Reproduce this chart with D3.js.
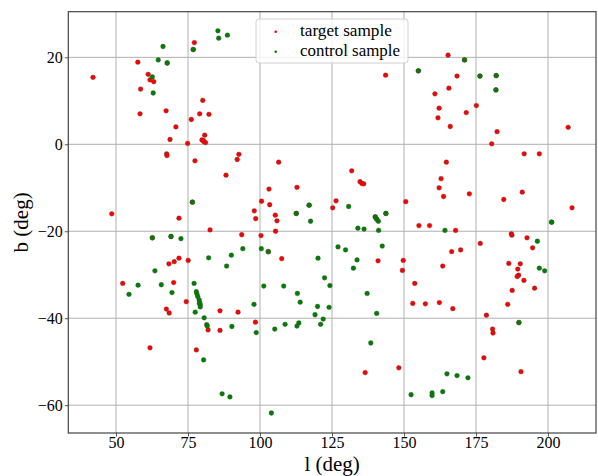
<!DOCTYPE html>
<html>
<head>
<meta charset="utf-8">
<script src="https://cdn.jsdelivr.net/npm/d3@7"></script>
<style>
  body { margin: 0; background: #fff; }
  svg { display: block; }
  text { font-family: "Liberation Serif", "Times New Roman", serif; fill: #000; }
</style>
</head>
<body>
<div id="chart"></div>
<script>
// target sample (red) positions, [l, b] in degrees
const targetPts = [
  [77.21, 23.4], [76.83, 21.8], [67.78, 18.7], [57.58, 18.9], [42.02, 15.4], [61.17, 16.1],
  [61.81, 14.8], [63.12, 14.4], [58.55, 12.7], [58.35, 7.0], [67.40, 7.7], [80.13, 10.1],
  [79.06, 7.0], [82.27, 6.9], [76.15, 5.7], [70.80, 4.0], [68.76, 1.1], [74.88, 0.2],
  [80.81, 2.1], [79.84, 1.0], [80.52, 0.6], [81.10, 0.4], [80.33, 0.9], [67.59, -2.2],
  [67.69, -2.6], [77.41, -3.8], [88.20, -7.1], [92.67, -2.3], [92.09, -3.5], [76.53, -13.3],
  [143.62, 15.9], [154.99, 16.9], [106.48, -4.1], [131.85, -6.1], [134.72, -8.6], [135.35, -9.0],
  [136.03, -9.1], [103.12, -10.3], [112.84, -9.9], [100.55, -13.1], [103.37, -13.9], [117.07, -14.0],
  [126.41, -13.0], [125.24, -14.6], [150.62, -13.2],
  [165.30, 20.5], [171.03, 19.4], [168.41, 15.7], [176.38, 15.7], [182.02, 15.8], [181.92, 12.5],
  [165.59, 12.9], [160.73, 11.6], [175.12, 8.9], [162.19, 8.3], [171.62, 7.3], [161.80, 6.1],
  [166.07, 4.1], [182.31, 2.9], [207.00, 3.9], [180.46, 0.1], [191.74, -2.2], [196.99, -2.2],
  [164.71, -4.1], [162.87, -7.9], [162.19, -10.0], [163.74, -12.0], [172.69, -11.4], [191.06, -11.0],
  [184.65, -12.7], [208.36, -14.6],
  [48.53, -16.0], [71.87, -17.0], [82.66, -19.7], [62.63, -21.5], [69.10, -21.2], [75.08, -26.7],
  [71.87, -26.2], [70.22, -27.0], [68.37, -27.5], [52.33, -32.0], [70.02, -31.8], [74.40, -36.2],
  [67.49, -37.9], [68.47, -38.8], [86.11, -38.3], [92.38, -38.6], [81.98, -42.7], [86.11, -42.8],
  [61.81, -46.8], [77.90, -47.3], [78.97, -36.6],
  [98.02, -15.3], [98.51, -17.1], [105.31, -16.3], [105.89, -17.6], [112.60, -15.9], [140.02, -16.7],
  [140.51, -17.2], [143.71, -15.9], [105.41, -20.0], [100.35, -21.0], [93.65, -20.8], [155.19, -18.7],
  [102.88, -24.7], [107.55, -26.3], [140.99, -26.8], [149.74, -26.7], [149.45, -29.0], [153.73, -32.0],
  [153.05, -36.6], [98.41, -40.9], [136.52, -52.5], [148.19, -51.4],
  [201.27, -17.9], [158.88, -18.7], [167.92, -19.8], [187.27, -20.6], [187.46, -20.9], [192.71, -21.5],
  [194.66, -23.8], [176.48, -22.8], [166.56, -24.7], [169.67, -24.3], [163.45, -28.0], [186.39, -27.4],
  [190.38, -27.5], [189.50, -28.7], [189.80, -30.1], [189.31, -30.4], [191.64, -31.3], [187.56, -33.6],
  [195.34, -33.1], [157.42, -36.7], [162.28, -36.4], [166.95, -37.8], [186.01, -36.8], [178.62, -39.3],
  [189.89, -41.0], [180.76, -42.5], [180.90, -43.4], [177.74, -49.1], [190.62, -52.3]
];

// control sample (green) positions
const controlPts = [
  [85.38, 26.1], [85.67, 24.4], [88.69, 25.1], [76.83, 21.8], [66.33, 22.5], [64.67, 19.4],
  [67.78, 18.7], [62.63, 15.5], [62.92, 11.8], [76.53, -13.3], [154.99, 16.9], [117.07, -14.0],
  [130.79, -14.3], [171.03, 19.4], [176.38, 15.7], [182.02, 15.8], [181.92, 12.5],
  [62.63, -21.5], [69.10, -21.2], [72.55, -21.7], [82.17, -26.1], [90.05, -25.5], [88.40, -28.0],
  [63.51, -29.1], [57.67, -32.4], [54.51, -34.5], [65.74, -32.3], [69.44, -34.1], [77.12, -32.0],
  [77.90, -33.9], [78.09, -34.4], [78.38, -35.0], [78.87, -35.8], [79.06, -36.4], [79.26, -36.9],
  [79.26, -37.4], [77.51, -38.6], [80.62, -39.9], [81.49, -41.5], [81.69, -41.8], [90.24, -41.9],
  [80.42, -49.6], [86.84, -57.4], [89.56, -58.1],
  [112.60, -15.9], [117.56, -17.7], [140.02, -16.7], [140.51, -17.2], [141.09, -17.7], [143.71, -15.9],
  [133.99, -19.3], [136.13, -19.5], [141.19, -19.8], [94.03, -24.0], [100.45, -24.0], [102.88, -24.7],
  [120.14, -26.2], [127.09, -23.6], [129.71, -24.3], [142.45, -23.4], [133.70, -26.6], [132.44, -28.5],
  [101.32, -32.6], [108.23, -32.6], [122.42, -30.7], [124.27, -32.5], [112.99, -34.3], [113.96, -36.3],
  [137.20, -34.3], [97.92, -36.8], [119.99, -37.3], [123.98, -37.5], [140.51, -38.9], [119.12, -39.2],
  [121.94, -40.2], [121.06, -41.4], [113.48, -41.1], [112.84, -41.8], [108.71, -41.4], [105.12, -42.5],
  [98.70, -43.3], [138.47, -45.7], [152.46, -57.6], [103.95, -61.8],
  [201.27, -17.9], [164.23, -19.8], [196.31, -22.3], [196.99, -28.5], [198.84, -29.1], [189.89, -41.0],
  [164.91, -52.8], [168.41, -53.2], [172.20, -53.7], [159.75, -57.2], [159.75, -57.8], [163.45, -56.9]
];

const xTicks = [50, 75, 100, 125, 150, 175, 200];
const yTicks = [-60, -40, -20, 0, 20];
const legendLabels = ["target sample", "control sample"];

const W = 598, H = 476;
const plot = { left: 68.3, right: 596, top: 11.7, bottom: 433 };

const svg = d3.select("#chart").append("svg")
    .attr("width", W)
    .attr("height", H);

const x = d3.scaleLinear().domain([33.44, 216.67]).range([plot.left, plot.right]);
const y = d3.scaleLinear().domain([-66.4, 30.5]).range([plot.bottom, plot.top]);

// grid
svg.append("g").selectAll("line")
    .data(xTicks).enter().append("line")
    .attr("x1", d => x(d)).attr("x2", d => x(d))
    .attr("y1", plot.top).attr("y2", plot.bottom)
    .attr("stroke", "#b0b0b0").attr("stroke-width", 1);
svg.append("g").selectAll("line")
    .data(yTicks).enter().append("line")
    .attr("x1", plot.left).attr("x2", plot.right)
    .attr("y1", d => y(d)).attr("y2", d => y(d))
    .attr("stroke", "#b0b0b0").attr("stroke-width", 1);

// axes
const xAxis = d3.axisBottom(x).tickValues(xTicks).tickSize(3.5).tickPadding(0)
    .tickFormat(d3.format("d"));
const yAxis = d3.axisLeft(y).tickValues(yTicks).tickSize(3.5).tickPadding(2)
    .tickFormat(d => d < 0 ? "\u2212" + Math.abs(d) : d);

const gx = svg.append("g").attr("transform", `translate(0,${plot.bottom})`).call(xAxis);
const gy = svg.append("g").attr("transform", `translate(${plot.left},0)`).call(yAxis);
[gx, gy].forEach(g => {
    g.select(".domain").remove();
    g.selectAll(".tick line").attr("stroke", "#555");
    g.selectAll(".tick text").attr("font-size", "16px")
        .attr("font-family", "Liberation Serif, serif").attr("fill", "#000");
});

// points: red first, green on top
const dots = svg.append("g");
dots.selectAll(".target")
    .data(targetPts).enter().append("circle")
    .attr("class", "target")
    .attr("cx", d => x(d[0])).attr("cy", d => y(d[1]))
    .attr("r", 2.4)
    .attr("fill", "#ff0000")
    .attr("stroke", "rgba(60,60,60,0.45)")
    .attr("stroke-width", 0.7);
dots.selectAll(".control")
    .data(controlPts).enter().append("circle")
    .attr("class", "control")
    .attr("cx", d => x(d[0])).attr("cy", d => y(d[1]))
    .attr("r", 2.4)
    .attr("fill", "#008000")
    .attr("stroke", "rgba(60,60,60,0.45)")
    .attr("stroke-width", 0.7);

// frame
svg.append("rect")
    .attr("x", plot.left).attr("y", plot.top)
    .attr("width", plot.right - plot.left).attr("height", plot.bottom - plot.top)
    .attr("fill", "none").attr("stroke", "#444").attr("stroke-width", 1.2);

// axis labels
svg.append("text")
    .attr("x", (plot.left + plot.right) / 2).attr("y", 471)
    .attr("text-anchor", "middle").attr("font-size", "21px")
    .text("l (deg)");
svg.append("text")
    .attr("transform", `translate(28,${(plot.top + plot.bottom) / 2}) rotate(-90)`)
    .attr("text-anchor", "middle").attr("font-size", "21px")
    .text("b (deg)");

// legend
const lg = svg.append("g").attr("transform", "translate(256,19)");
lg.append("rect")
    .attr("width", 152).attr("height", 44).attr("rx", 3)
    .attr("fill", "rgba(255,255,255,0.8)")
    .attr("stroke", "#d0d0d0").attr("stroke-width", 1);
const legendColors = ["#ff0000", "#008000"];
const legendWidths = [92, 100];
legendLabels.forEach((lab, i) => {
    lg.append("circle")
        .attr("cx", 19.7).attr("cy", 12.7 + i * 20)
        .attr("r", 1.3).attr("fill", legendColors[i]);
    const t = lg.append("text")
        .attr("x", 44).attr("y", 16.5 + i * 20)
        .attr("font-family", "DejaVu Serif, serif")
        .attr("font-size", "14px")
        .text(lab);
    // fit text to the width measured on the reference
    const w = t.node().getComputedTextLength();
    if (w > 0) t.attr("font-size", (14 * legendWidths[i] / w).toFixed(2) + "px");
});
</script>
</body>
</html>
